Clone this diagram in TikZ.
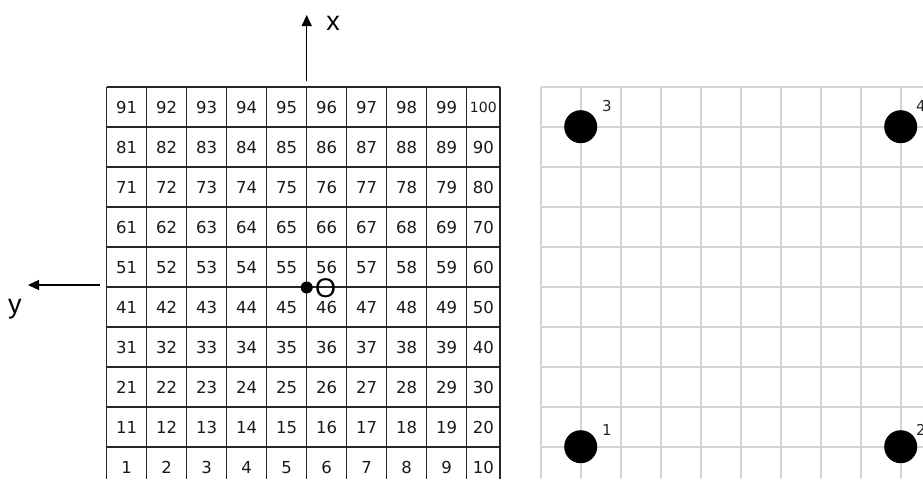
\documentclass[tikz,border=0pt]{standalone}
\usepackage{fontspec}
\setmainfont{DejaVu Sans}
\newfontfamily\arialfont{Liberation Sans}
\usetikzlibrary{arrows.meta}
\begin{document}
\begin{tikzpicture}[x=1pt,y=-1pt,
  gridline/.style={draw=black!85, line width=1.3pt},
  lightline/.style={draw=black!17, line width=1.6pt},
  cellnum/.style={font=\fontsize{16.5}{18}\selectfont, text=black!90, inner sep=0pt, anchor=base},
  smallnum/.style={cellnum, font=\fontsize{14}{15}\selectfont},
  axisarrow/.style={draw=black, line width=1.3pt, -{Triangle[length=11pt,width=10pt]}},
  axislabel/.style={font=\arialfont\fontsize{27}{29}\selectfont, inner sep=0pt, anchor=center},
  bigdot/.style={circle, fill=black, minimum size=33pt, inner sep=0pt},
  odot/.style={circle, fill=black, minimum size=12pt, inner sep=0pt},
  ptlabel/.style={font=\fontsize{15}{17}\selectfont, text=black!85, inner sep=0pt, anchor=base}]
\useasboundingbox (0,0) rectangle (923,479);
\clip (0,0) rectangle (923,479);
\fill[white] (0,0) rectangle (923,479);

% right light grid
\foreach \i in {0,...,9} \draw[lightline] ({540.7+40*\i},86.7) -- ({540.7+40*\i},479);
\foreach \j in {0,...,9} \draw[lightline] (540.7,{86.7+40*\j}) -- (923,{86.7+40*\j});

% left numbered grid
\foreach \i in {0,...,9} \draw[gridline] ({106.7+40*\i},87) -- ({106.7+40*\i},479);
\draw[gridline] (500,87) -- (500,479);
\foreach \j in {0,...,9} \draw[gridline] (106.7,{87+40*\j}) -- (500,{87+40*\j});

\foreach \r in {0,...,9} {
  \foreach \c in {0,...,9} {
    \pgfmathtruncatemacro\n{\r*10+\c+1}
    \pgfmathsetmacro\xx{\c<9 ? 126.7+40*\c : 483.3}
    \pgfmathsetmacro\yy{467.5-40*\r+6}
    \ifnum\n=100
      \node[smallnum] (n\n) at (\xx,{\yy-0.9}) {\n};
    \else
      \node[cellnum] (n\n) at (\xx,\yy) {\n};
    \fi
  }
}

% axes
\coordinate (xs) at (306.7,81);
\coordinate (xe) at (306.7,15);
\draw[axisarrow] (xs) -- (xe);
\node[axislabel] (xl) at (333,23) {x};
\coordinate (ys) at (100,285);
\coordinate (ye) at (28,285);
\draw[axisarrow] (ys) -- (ye);
\node[axislabel] (yl) at (15,309) {y};

% origin
\node[odot] (o) at (306.7,287.5) {};
\node[axislabel, anchor=west] (ol) at (315,288) {O};

% points
\node[bigdot] (p3) at (580.7,126.7) {};
\node[bigdot] (p4) at (900.7,126.7) {};
\node[bigdot] (p1) at (580.7,446.7) {};
\node[bigdot] (p2) at (900.7,446.7) {};
\node[ptlabel] (l3) at (607,111.5) {3};
\node[ptlabel] (l4) at (921,111.5) {4};
\node[ptlabel] (l1) at (607,435.5) {1};
\node[ptlabel] (l2) at (921,435.5) {2};
\end{tikzpicture}
\end{document}
